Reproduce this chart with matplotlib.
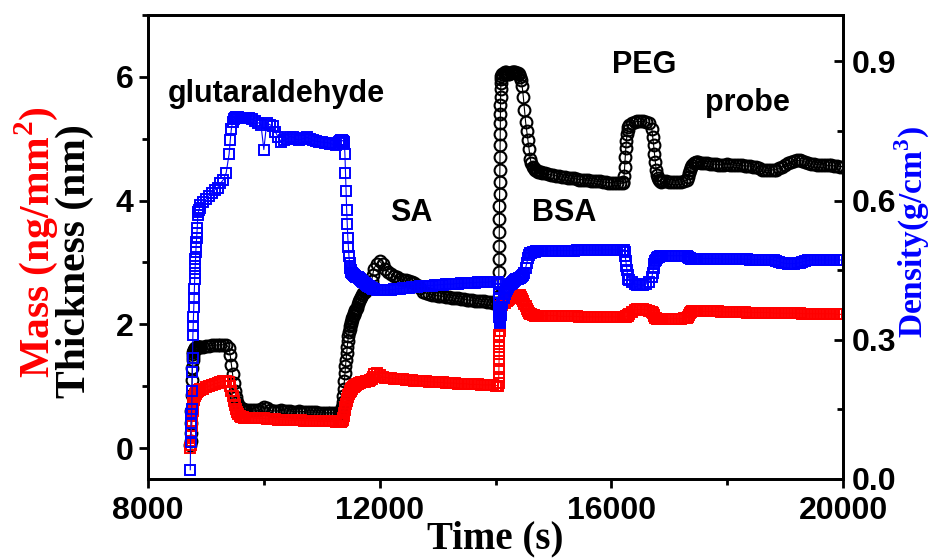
import numpy as np
import matplotlib
matplotlib.use("Agg")
import matplotlib.pyplot as plt
from matplotlib.ticker import MultipleLocator

plt.rcParams['font.family'] = ['Liberation Sans', 'DejaVu Sans']
plt.rcParams['font.weight'] = 'bold'
plt.rcParams['mathtext.fontset'] = 'custom'
plt.rcParams['mathtext.rm'] = 'Liberation Serif:bold'
plt.rcParams['mathtext.bf'] = 'Liberation Serif:bold'

# Instrument sampling clock: (start, stop, step) in seconds, finer where the signal moves fast
time_blocks = [
    (8730, 8850, 5), (8860, 8900, 10), (8950, 9400, 50), (9420, 9700, 20),
    (9750, 11300, 50), (11310, 11600, 10), (11620, 11900, 20), (11950, 14050, 50),
    (14054, 14094, 2), (14100, 14800, 20), (14850, 16200, 50), (16210, 16300, 10),
    (16350, 16700, 50), (16715, 16850, 15), (16900, 17300, 50), (17320, 17500, 20),
    (17550, 20000, 50),
]
time_s = np.concatenate([np.arange(a, b + 1, s) for a, b, s in time_blocks])

# Layer thickness (nm), left axis
thickness_nm = [
    0.05, 0.12, 0.25, 0.4, 0.6, 0.85, 1.1, 1.3, 1.42, 1.48, 1.52, 1.55, 1.57, 1.58, 1.59,
    1.6, 1.6, 1.61, 1.61, 1.62, 1.62, 1.62, 1.63, 1.63, 1.63,
    1.63, 1.64, 1.64, 1.64, 1.64,
    1.64, 1.65, 1.65, 1.66, 1.66, 1.67, 1.67, 1.67, 1.67, 1.62,
    1.5, 1.35, 1.2, 1.05, 0.92, 0.82, 0.74, 0.69, 0.66, 0.64, 0.63, 0.63, 0.62, 0.62, 0.62,
    0.62, 0.62, 0.61, 0.61, 0.63, 0.67, 0.65, 0.61, 0.6, 0.6,
    0.6, 0.61, 0.6, 0.6, 0.6, 0.59, 0.59, 0.6, 0.59, 0.59,
    0.58, 0.58, 0.58, 0.58, 0.57, 0.57, 0.57, 0.57, 0.57, 0.57, 0.57, 0.57,
    0.57, 0.57, 0.58, 0.6, 0.66, 0.74, 0.84, 0.95, 1.08, 1.21,
    1.32, 1.43, 1.54, 1.64, 1.73, 1.81, 1.87, 1.92, 1.97, 2.01,
    2.04, 2.07, 2.1, 2.13, 2.15, 2.18, 2.2, 2.23, 2.25, 2.27,
    2.33, 2.38, 2.41, 2.44, 2.47, 2.51, 2.53, 2.55, 2.57, 2.58, 2.6, 2.62, 2.7, 2.8, 2.9,
    2.98, 3.02, 2.97, 2.9, 2.85, 2.81, 2.78, 2.76, 2.74, 2.72,
    2.71, 2.7, 2.69, 2.67, 2.63, 2.58, 2.53, 2.5, 2.49, 2.48,
    2.47, 2.46, 2.46, 2.45, 2.44, 2.44, 2.43, 2.42, 2.42, 2.41,
    2.41, 2.4, 2.39, 2.39, 2.38, 2.38, 2.37, 2.37, 2.36, 2.36,
    2.35, 2.35, 2.34,
    2.45, 2.65, 2.85, 3.06, 3.27, 3.49, 3.7, 3.92, 4.11, 4.3,
    4.5, 4.7, 4.9, 5.08, 5.25, 5.4, 5.55, 5.68, 5.8, 5.9, 5.97,
    6.02, 6.05, 6.07, 6.08, 6.08, 6.06, 6.04, 6.05, 6.07, 6.08,
    6.08, 6.08, 6.08, 6.07, 6.06, 6.04, 6.0, 5.95, 5.85, 5.68,
    5.47, 5.27, 5.12, 4.98, 4.83, 4.68, 4.6, 4.55, 4.52, 4.5,
    4.49, 4.48, 4.47, 4.46, 4.46, 4.45,
    4.44, 4.43, 4.42, 4.41, 4.4, 4.39, 4.38, 4.38, 4.37, 4.36,
    4.36, 4.35, 4.34, 4.34, 4.33, 4.33, 4.32, 4.32, 4.31, 4.31,
    4.3, 4.3, 4.29, 4.29, 4.29, 4.28, 4.28, 4.28,
    4.3, 4.4, 4.55, 4.7, 4.85, 4.97, 5.07, 5.14, 5.19, 5.22,
    5.25, 5.27, 5.28, 5.28, 5.28, 5.27, 5.25, 5.15,
    5.03, 4.9, 4.76, 4.62, 4.5, 4.42, 4.37, 4.33, 4.31, 4.3,
    4.31, 4.31, 4.3, 4.3, 4.3, 4.3, 4.3, 4.31, 4.33,
    4.38, 4.44, 4.5, 4.55, 4.58, 4.6, 4.61, 4.62, 4.62, 4.62,
    4.61, 4.6, 4.6, 4.59, 4.59, 4.59, 4.58, 4.58, 4.58, 4.59,
    4.58, 4.58, 4.57, 4.57, 4.57, 4.56, 4.56, 4.56, 4.55, 4.54,
    4.52, 4.5, 4.49, 4.49, 4.49, 4.5, 4.5, 4.52, 4.55, 4.58,
    4.6, 4.62, 4.64, 4.65, 4.65, 4.64, 4.62, 4.6, 4.59, 4.59,
    4.58, 4.58, 4.58, 4.57, 4.57, 4.57, 4.56, 4.56, 4.55, 4.55,
]

# Adsorbed mass (ng/mm^2), left axis
mass_ng_mm2 = [
    0.0, 0.05, 0.12, 0.2, 0.28, 0.36, 0.44, 0.52, 0.6, 0.66,
    0.71, 0.75, 0.78, 0.8, 0.82, 0.84, 0.85, 0.86, 0.87, 0.88,
    0.89, 0.9, 0.9, 0.91, 0.91,
    0.92, 0.93, 0.94, 0.94, 0.95,
    0.96, 0.98, 1.0, 1.02, 1.04, 1.05, 1.07, 1.08, 1.09, 1.07,
    1.0, 0.92, 0.84, 0.76, 0.69, 0.63, 0.58, 0.55, 0.52, 0.51, 0.5, 0.5, 0.49, 0.49, 0.49,
    0.49, 0.49, 0.48, 0.48, 0.48, 0.48, 0.47, 0.47, 0.47, 0.47,
    0.46, 0.46, 0.46, 0.46, 0.45, 0.45, 0.45, 0.45, 0.45, 0.44,
    0.44, 0.44, 0.44, 0.44, 0.43, 0.43, 0.43, 0.43, 0.43, 0.43, 0.42, 0.42,
    0.42, 0.42, 0.42, 0.42, 0.43, 0.45, 0.48, 0.52, 0.57, 0.62,
    0.67, 0.72, 0.76, 0.8, 0.83, 0.86, 0.88, 0.9, 0.92, 0.93,
    0.95, 0.96, 0.97, 0.98, 0.99, 1.0, 1.01, 1.02, 1.02, 1.03,
    1.04, 1.05, 1.05, 1.06, 1.06, 1.07, 1.07, 1.08, 1.08, 1.08, 1.09, 1.1, 1.12, 1.15, 1.2,
    1.22, 1.18, 1.15, 1.14, 1.13, 1.13, 1.12, 1.12, 1.11, 1.11,
    1.1, 1.1, 1.1, 1.09, 1.09, 1.08, 1.08, 1.08, 1.07, 1.07,
    1.07, 1.06, 1.06, 1.06, 1.05, 1.05, 1.05, 1.05, 1.04, 1.04,
    1.04, 1.04, 1.03, 1.03, 1.03, 1.03, 1.02, 1.02, 1.02, 1.02,
    1.02, 1.01, 1.01,
    1.05, 1.15, 1.28, 1.4, 1.52, 1.63, 1.73, 1.82, 1.9, 1.97,
    2.03, 2.08, 2.12, 2.16, 2.19, 2.22, 2.24, 2.26, 2.28, 2.29, 2.3,
    2.3, 2.32, 2.34, 2.35, 2.37, 2.38, 2.4, 2.41, 2.42, 2.43,
    2.44, 2.45, 2.46, 2.47, 2.48, 2.48, 2.47, 2.44, 2.41, 2.37,
    2.33, 2.29, 2.25, 2.21, 2.19, 2.17, 2.16, 2.15, 2.15, 2.14,
    2.14, 2.14, 2.13, 2.13, 2.13, 2.13,
    2.14, 2.14, 2.14, 2.14, 2.14, 2.13, 2.13, 2.13, 2.13, 2.13,
    2.13, 2.13, 2.12, 2.12, 2.12, 2.12, 2.12, 2.12, 2.12, 2.12,
    2.12, 2.12, 2.12, 2.12, 2.12, 2.12, 2.12, 2.12,
    2.12, 2.12, 2.12, 2.12, 2.12, 2.13, 2.13, 2.14, 2.15, 2.17,
    2.2, 2.23, 2.24, 2.24, 2.24, 2.23, 2.22, 2.2,
    2.18, 2.15, 2.13, 2.11, 2.1, 2.09, 2.09, 2.09, 2.09, 2.09,
    2.09, 2.09, 2.09, 2.09, 2.09, 2.09, 2.09, 2.1, 2.1,
    2.12, 2.15, 2.18, 2.2, 2.21, 2.21, 2.21, 2.21, 2.21, 2.21,
    2.21, 2.21, 2.21, 2.21, 2.21, 2.21, 2.21, 2.2, 2.2, 2.2,
    2.2, 2.2, 2.2, 2.2, 2.2, 2.2, 2.19, 2.19, 2.19, 2.19,
    2.19, 2.19, 2.19, 2.19, 2.19, 2.18, 2.18, 2.18, 2.18, 2.18,
    2.18, 2.18, 2.18, 2.18, 2.18, 2.17, 2.17, 2.17, 2.17, 2.17,
    2.17, 2.17, 2.17, 2.17, 2.17, 2.17, 2.17, 2.16, 2.16, 2.17,
]

# Layer density (g/cm^3), right axis
density_g_cm3 = [
    0.02, 0.08, 0.1, 0.12, 0.14, 0.15, 0.19, 0.23, 0.26, 0.31,
    0.33, 0.35, 0.37, 0.39, 0.41, 0.43, 0.445, 0.46, 0.475, 0.49,
    0.5, 0.51, 0.52, 0.53, 0.54,
    0.57, 0.575, 0.58, 0.585, 0.59,
    0.597, 0.603, 0.61, 0.617, 0.623, 0.628, 0.637, 0.645, 0.66, 0.7,
    0.73, 0.755, 0.77, 0.775, 0.778, 0.78, 0.78, 0.78, 0.779, 0.779,
    0.778, 0.778, 0.778, 0.777, 0.777,
    0.777, 0.775, 0.772, 0.768, 0.764, 0.71, 0.768, 0.764, 0.76, 0.748,
    0.736, 0.727, 0.73, 0.733, 0.738, 0.737, 0.733, 0.73, 0.732, 0.735,
    0.736, 0.733, 0.73, 0.728, 0.727, 0.726, 0.725, 0.725, 0.723, 0.721,
    0.72, 0.726,
    0.727, 0.728, 0.729, 0.73, 0.73, 0.729, 0.728, 0.727, 0.725, 0.7,
    0.66, 0.62, 0.58, 0.55, 0.52, 0.5, 0.48, 0.465, 0.455, 0.45,
    0.447, 0.445, 0.443, 0.441, 0.44, 0.439, 0.438, 0.437, 0.436, 0.436,
    0.435, 0.433, 0.431, 0.429, 0.427, 0.425, 0.423, 0.421, 0.419, 0.417,
    0.415, 0.413, 0.411, 0.41, 0.409,
    0.408, 0.407, 0.407, 0.407, 0.408, 0.408, 0.409, 0.41, 0.41, 0.411,
    0.412, 0.412, 0.413, 0.414, 0.414, 0.415, 0.416, 0.416, 0.417, 0.417,
    0.418, 0.418, 0.419, 0.419, 0.42, 0.42, 0.42, 0.421, 0.421, 0.422,
    0.422, 0.422, 0.423, 0.423, 0.423, 0.424, 0.424, 0.424, 0.424, 0.425,
    0.425, 0.425, 0.424,
    0.42, 0.41, 0.4, 0.39, 0.38, 0.37, 0.36, 0.35, 0.345, 0.34,
    0.338, 0.337, 0.338, 0.34, 0.343, 0.347, 0.35, 0.354, 0.358, 0.362, 0.365,
    0.37, 0.38, 0.39, 0.398, 0.405, 0.41, 0.414, 0.418, 0.421, 0.423,
    0.425, 0.427, 0.429, 0.43, 0.432, 0.433, 0.434, 0.435, 0.437, 0.44,
    0.445, 0.455, 0.466, 0.476, 0.482, 0.486, 0.488, 0.489, 0.49, 0.49,
    0.491, 0.491, 0.491, 0.491, 0.491, 0.491,
    0.491, 0.491, 0.492, 0.492, 0.492, 0.492, 0.492, 0.492, 0.492, 0.492,
    0.492, 0.493, 0.493, 0.493, 0.493, 0.493, 0.493, 0.493, 0.493, 0.493,
    0.494, 0.494, 0.494, 0.494, 0.494, 0.494, 0.494, 0.494,
    0.494, 0.493, 0.49, 0.48, 0.47, 0.46, 0.45, 0.44, 0.432, 0.428,
    0.424, 0.421, 0.419, 0.418, 0.418, 0.42, 0.424, 0.435,
    0.445, 0.455, 0.463, 0.469, 0.473, 0.476, 0.478, 0.479, 0.48, 0.48,
    0.481, 0.481, 0.481, 0.481, 0.481, 0.481, 0.481, 0.481, 0.48,
    0.479, 0.477, 0.476, 0.475, 0.475, 0.475, 0.475, 0.475, 0.475, 0.475,
    0.475, 0.475, 0.475, 0.475, 0.475, 0.475, 0.475, 0.474, 0.474, 0.474,
    0.474, 0.474, 0.474, 0.474, 0.474, 0.474, 0.474, 0.473, 0.473, 0.473,
    0.473, 0.473, 0.473, 0.473, 0.473, 0.472, 0.47, 0.468, 0.466, 0.465,
    0.464, 0.464, 0.464, 0.465, 0.466, 0.468, 0.47, 0.471, 0.472, 0.472,
    0.472, 0.472, 0.472, 0.472, 0.472, 0.472, 0.472, 0.472, 0.472, 0.472,
]

assert len(thickness_nm) == len(time_s)
assert len(mass_ng_mm2) == len(time_s)
assert len(density_g_cm3) == len(time_s)

# Deposition steps annotated above the curves: (label, time, baseline value)
step_labels = ['glutaraldehyde', 'SA', 'BSA', 'PEG', 'probe']
step_times = [8345, 12180, 14630, 16013, 17620]
step_levels = [5.6, 3.67, 3.67, 6.07, 5.45]

x_ticks = [8000, 12000, 16000, 20000]
left_ticks = [0, 2, 4, 6]
right_ticks = [0.0, 0.3, 0.6, 0.9]

RED = '#ff0000'
BLUE = '#0000ff'

fig = plt.figure(figsize=(9.3, 5.58), dpi=100)
ax = fig.add_axes([148 / 930, 79 / 558, 695 / 930, 464 / 558])

ax.plot(time_s, thickness_nm, '-', color='black', lw=0.8,
        marker='o', ms=8.5, mfc='none', mec='black', mew=1.5)
ax.plot(time_s, mass_ng_mm2, '-', color=RED, lw=0.8,
        marker='s', ms=7.5, mfc='none', mec=RED, mew=1.4)

ax2 = ax.twinx()
ax2.plot(time_s, density_g_cm3, '-', color=BLUE, lw=0.8,
         marker='s', ms=7.5, mfc='none', mec=BLUE, mew=1.4)

ax.set_xlim(8000, 20000)
ax.set_ylim(-0.5, 7)
ax2.set_ylim(0, 1.0)

ax.set_xticks(x_ticks)
ax.set_xticklabels([str(v) for v in x_ticks])
ax.xaxis.set_minor_locator(MultipleLocator(2000))
ax.set_yticks(left_ticks)
ax.set_yticklabels([str(v) for v in left_ticks])
ax.yaxis.set_minor_locator(MultipleLocator(1))
ax2.set_yticks(right_ticks)
ax2.set_yticklabels([f'{v:.1f}' for v in right_ticks])
ax2.yaxis.set_minor_locator(MultipleLocator(0.15))

ax.tick_params(axis='both', which='both', direction='out', width=2,
               top=False, right=False, labelsize=23)
ax.tick_params(axis='both', which='major', length=6.5)
ax.tick_params(axis='both', which='minor', length=4)
ax.tick_params(axis='x', which='major', pad=6)
ax.tick_params(axis='y', which='major', pad=4)
ax2.tick_params(axis='y', which='both', direction='in', width=2, labelsize=23,
                left=False, right=True, pad=6)
ax2.tick_params(axis='y', which='major', length=6.5)
ax2.tick_params(axis='y', which='minor', length=4)

for a in (ax, ax2):
    for sp in a.spines.values():
        sp.set_linewidth(2)
    for lbl in a.get_xticklabels() + a.get_yticklabels():
        lbl.set_fontweight('bold')

for label, t, lv in zip(step_labels, step_times, step_levels):
    ax.text(t, lv, label, fontsize=22, fontweight='bold', va='baseline', ha='left',
            color='black')

serif = ['Liberation Serif', 'DejaVu Serif']
fig.text(36 / 930, 1 - 242 / 558, r'Mass (ng/mm$^{\mathbf{2}}$)', rotation=90,
         ha='center', va='center', color=RED, fontsize=30, fontweight='bold', family=serif)
fig.text(75 / 930, 1 - 261 / 558, 'Thickness (nm)', rotation=90,
         ha='center', va='center', color='black', fontsize=30, fontweight='bold', family=serif)
fig.text(912 / 930, 1 - 232 / 558, r'Density(g/cm$^{\mathbf{3}}$)', rotation=90,
         ha='center', va='center', color=BLUE, fontsize=24, fontweight='bold', family=serif)
fig.text(495.5 / 930, 1 - 548 / 558, 'Time (s)', ha='center', va='baseline',
         color='black', fontsize=28, fontweight='bold', family=serif)

fig.savefig('out.png', dpi=100)
